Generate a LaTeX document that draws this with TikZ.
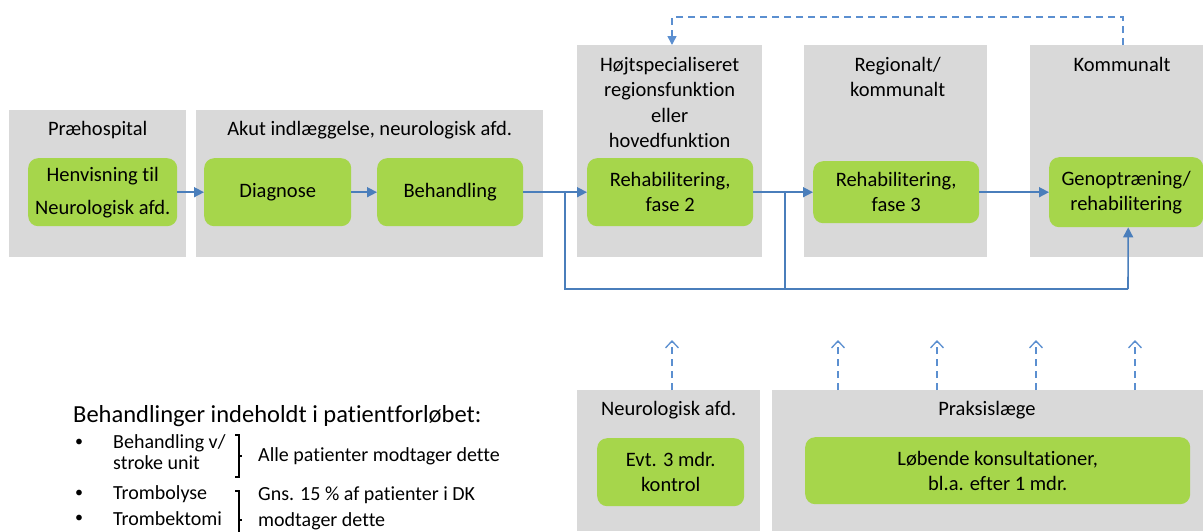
\documentclass[tikz,border=0pt]{standalone}
\usepackage{fontspec}
\setmainfont{Carlito}[Ligatures={NoCommon}]
\usetikzlibrary{arrows.meta,calc}
\definecolor{panelgray}{HTML}{D9D9D9}
\definecolor{stepgreen}{HTML}{A6D64B}
\definecolor{flowblue}{HTML}{4A7EBB}
\definecolor{dashblue}{HTML}{5B8FD0}

\begin{document}
\begin{tikzpicture}[x=1pt,y=-1pt,
  panelbox/.style={fill=panelgray, draw=none, inner sep=0pt, anchor=north west},
  stepbox/.style={fill=stepgreen, draw=none, rounded corners=10pt, inner sep=0pt,
    anchor=north west, align=center, font=\fontsize{20.5}{25}\selectfont},
  paneltitle/.style={anchor=north, inner sep=0pt, align=center,
    font=\fontsize{20.5}{25.5}\selectfont},
  flow/.style={draw=flowblue, line width=1.6pt},
  flowarrow/.style={flow, -{Triangle[length=10pt,width=10pt]}},
  dashlink/.style={draw=dashblue, line width=1.5pt, dash pattern=on 7pt off 5pt},
  dashdown/.style={dashlink, -{Triangle[length=9pt,width=9pt]}},
  dashup/.style={dashlink, -{Straight Barb[length=7pt,width=13pt,line width=1.3pt]}},
  listtext/.style={anchor=west, inner sep=0pt, align=left,
    font=\fontsize{20}{21}\selectfont},
  bullet/.style={anchor=west, inner sep=0pt, font=\fontsize{16}{17}\selectfont},
  bracket/.style={draw=black, line width=1.1pt}
]
\useasboundingbox (0,0) rectangle (1203,531);

% upper row panels
\node[panelbox, minimum width=177pt, minimum height=147pt] (pre) at (9,110) {};
\node[panelbox, minimum width=347pt, minimum height=147pt] (akut) at (196,110) {};
\node[panelbox, minimum width=185pt, minimum height=212pt] (hoej) at (577,45) {};
\node[panelbox, minimum width=183pt, minimum height=212pt] (reg) at (804,45) {};
\node[panelbox, minimum width=190pt, minimum height=212pt] (kom) at (1030,45) {};

% panel titles
\node[paneltitle] (tpre) at ($(pre.north)+(0,11)$) {Præhospital};
\node[paneltitle] (takut) at ($(akut.north)+(0,11)$) {Akut indlæggelse, neurologisk afd.};
\node[paneltitle] (thoej) at ($(hoej.north)+(0,12)$) {Højtspecialiseret\\regionsfunktion\\eller\\hovedfunktion};
\node[paneltitle] (treg) at ($(reg.north)+(2,12)$) {Regionalt/\\kommunalt};
\node[paneltitle] (tkom) at ($(kom.north west)+(92,12)$) {Kommunalt};

% steps
\node[stepbox, minimum width=149pt, minimum height=68pt] (henv) at (28,158)
  {Henvisning til\\[8pt]Neurologisk afd.};
\node[stepbox, minimum width=147pt, minimum height=68pt] (diag) at (204,158) {Diagnose};
\node[stepbox, minimum width=146pt, minimum height=68pt] (beh) at (377,158) {Behandling};
\node[stepbox, minimum width=166pt, minimum height=68pt] (fase2) at (587,158)
  {Rehabilitering,\\fase 2};
\node[stepbox, minimum width=166pt, minimum height=62pt] (fase3) at (813,161)
  {Rehabilitering,\\fase 3};
\node[stepbox, minimum width=154pt, minimum height=70pt] (gen) at (1049,157)
  {Genoptræning/\\rehabilitering};

% main flow
\draw[flowarrow] (henv.east) -- (diag.west);
\draw[flowarrow] (diag.east) -- (beh.west);
\draw[flowarrow] (beh.east) -- (fase2.west);
\draw[flowarrow] (fase2.east) -- (fase3.west);
\draw[flowarrow] (fase3.east) -- (gen.west);

% bypass to the municipal step
\coordinate (split1) at ($(beh.east)!0.656!(fase2.west)$);
\coordinate (split2) at ($(fase2.east)!0.53!(fase3.west)$);
\coordinate (genin) at ($(gen.south)+(2,0)$);
\draw[flow] (split1) |- (1128,289) coordinate (corner);
\draw[flow] (split2) -- (split2 |- corner);
\draw[flowarrow] (corner) -- (genin);

% feedback from municipal to specialised rehabilitation
\coordinate (fbstart) at (1123,45);
\coordinate (fbend) at (672,45);
\draw[dashdown] (fbstart) -- (1123,17) -| (fbend);

% lower row panels
\node[panelbox, minimum width=183pt, minimum height=141pt] (neu) at (577,390) {};
\node[panelbox, minimum width=440pt, minimum height=141pt] (prak) at (772,390) {};
\node[paneltitle] (tneu) at ($(neu.north)+(0,11)$) {Neurologisk afd.};
\node[paneltitle] (tprak) at ($(prak.north west)+(215,11)$) {Praksislæge};
\node[stepbox, minimum width=147pt, minimum height=68pt] (evt) at (597,438)
  {Evt. 3 mdr.\\kontrol};
\node[stepbox, minimum width=385pt, minimum height=67pt] (loeb) at (805,437)
  {Løbende konsultationer,\\bl.a. efter 1 mdr.};

% follow-up links pointing upwards
\coordinate (up1) at (672,390);
\coordinate (up2) at (838,390);
\coordinate (up3) at (937,390);
\coordinate (up4) at (1036,390);
\coordinate (up5) at (1135,390);
\foreach \c in {up1,up2,up3,up4,up5}
  \draw[dashup] (\c) -- ++(0,-50);

% treatment list
\node[listtext, font=\fontsize{24.5}{26}\selectfont] (lhead) at (73,416)
  {Behandlinger indeholdt i patientforløbet:};
\node[bullet] (b1) at (75,443) {•};
\node[bullet] (b2) at (75,494) {•};
\node[bullet] (b3) at (75,519) {•};
\node[listtext] (i1) at (113,443) {Behandling v/};
\node[listtext] (i1b) at (113,463) {stroke unit};
\node[listtext] (i2) at (113,494) {Trombolyse};
\node[listtext] (i3) at (113,519) {Trombektomi};

% brackets grouping the treatments
\coordinate (br1t) at (239,435);
\coordinate (br1b) at (239,477);
\draw[bracket] ($(br1t)+(-4,0)$) -- (br1t) -- (br1b) -- ++(-4,0);
\draw[bracket] ($(br1t)!0.5!(br1b)$) -- ++(3,0);
\coordinate (br2t) at (239,491);
\coordinate (br2b) at (239,549);
\draw[bracket] ($(br2t)+(-4,0)$) -- (br2t) -- (br2b);
\draw[bracket] ($(br2t)!0.5!(br2b)$) -- ++(3,0);

\node[listtext] (n1) at (258,456) {Alle patienter modtager dette};
\node[listtext] (n2) at (258,495) {Gns. 15 \% af patienter i DK};
\node[listtext] (n3) at (258,521) {modtager dette};
\end{tikzpicture}
\end{document}
